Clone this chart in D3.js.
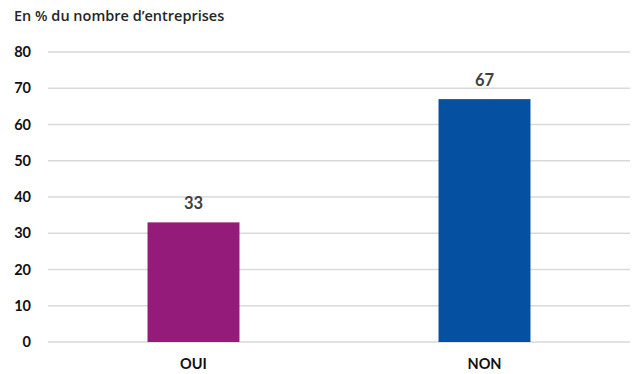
<!DOCTYPE html>
<html>
<head>
<meta charset="utf-8">
<script src="https://cdn.jsdelivr.net/npm/d3@7"></script>
<style>
  body { margin: 0; background: #fff; }
  text { font-family: Lato, "Open Sans", sans-serif; }
</style>
</head>
<body>
<script>
const categories = ["OUI", "NON"];
const values = [33, 67];
const colors = ["#951b7a", "#0550a0"];
const yTicks = [0, 10, 20, 30, 40, 50, 60, 70, 80];
const title = "En % du nombre d\u2019entreprises";

const w = 638, h = 374;
const m = { left: 48, right: 8, top: 52, bottom: 32 };

const svg = d3.select("body").append("svg")
  .attr("width", w).attr("height", h);

const x = d3.scaleBand().domain(categories)
  .range([m.left, w - m.right])
  .paddingInner(0.684).paddingOuter(0.342);
const y = d3.scaleLinear().domain([0, 80]).range([h - m.bottom, m.top]);

svg.append("text")
  .attr("x", 14).attr("y", 21)
  .style("font-family", "'Open Sans', sans-serif")
  .attr("font-size", 14.5).attr("font-weight", 600).attr("fill", "#262626")
  .text(title);

// grid lines
svg.append("g").selectAll("line").data(yTicks).enter().append("line")
  .attr("x1", m.left).attr("x2", w - m.right)
  .attr("y1", d => y(d)).attr("y2", d => y(d))
  .attr("stroke", "#d9d9d9").attr("stroke-width", 1.3);

// y tick labels
svg.append("g").selectAll("text").data(yTicks).enter().append("text")
  .attr("x", 31).attr("y", d => y(d)).attr("dy", "0.35em")
  .attr("text-anchor", "end")
  .attr("font-size", 14.5).attr("font-weight", "bold").attr("fill", "#111")
  .text(d => d);

// bars
svg.append("g").selectAll("rect").data(values).enter().append("rect")
  .attr("x", (d, i) => x(categories[i]))
  .attr("y", d => y(d))
  .attr("width", x.bandwidth())
  .attr("height", d => y(0) - y(d))
  .attr("fill", (d, i) => colors[i]);

// value labels
svg.append("g").selectAll("text").data(values).enter().append("text")
  .attr("x", (d, i) => x(categories[i]) + x.bandwidth() / 2)
  .attr("y", d => y(d) - 13)
  .attr("text-anchor", "middle")
  .attr("font-size", 16.5).attr("font-weight", "bold").attr("fill", "#404040")
  .text(d => d);

// category labels
svg.append("g").selectAll("text").data(categories).enter().append("text")
  .attr("x", d => x(d) + x.bandwidth() / 2)
  .attr("y", h - 5)
  .attr("text-anchor", "middle")
  .attr("font-size", 14.5).attr("font-weight", "bold").attr("fill", "#111")
  .text(d => d);
</script>
</body>
</html>
